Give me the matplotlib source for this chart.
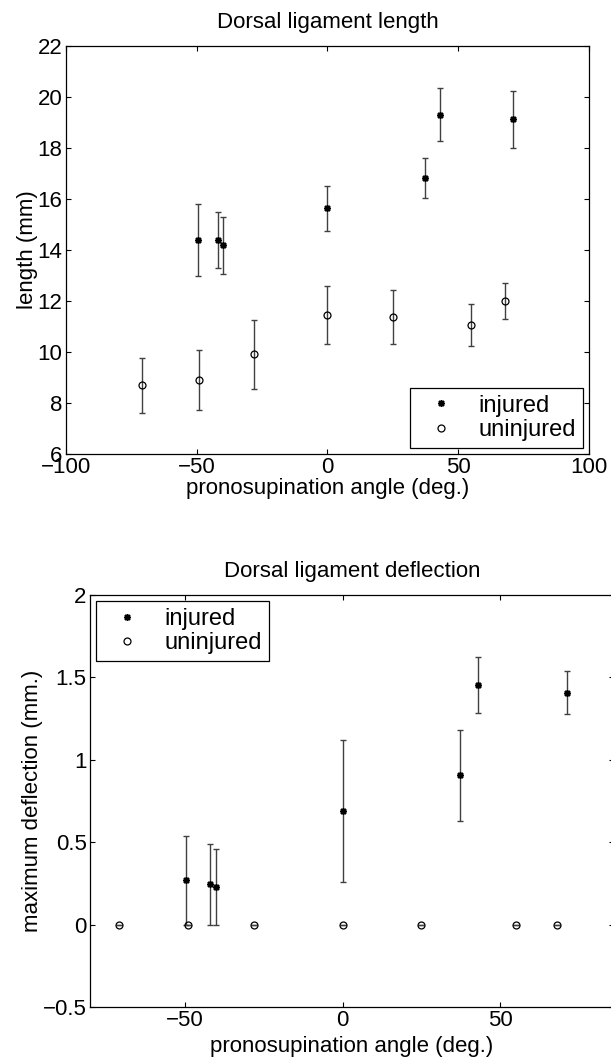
import numpy as np
import matplotlib
matplotlib.use("Agg")
import matplotlib.pyplot as plt

plt.rcParams['font.family'] = ['Liberation Sans', 'DejaVu Sans']

# data
inj_angle = [-49.5, -42, -40, 0, 37.3, 43, 71]
uninj_angle = [-70.8, -49, -28, 0, 25, 55, 68]

inj_length = [14.39, 14.39, 14.18, 15.63, 16.82, 19.31, 19.12]
inj_length_err = [1.42, 1.10, 1.12, 0.87, 0.78, 1.04, 1.10]
uninj_length = [8.69, 8.91, 9.91, 11.45, 11.36, 11.06, 12.0]
uninj_length_err = [1.08, 1.17, 1.35, 1.13, 1.06, 0.81, 0.70]

inj_defl = [0.27, 0.245, 0.228, 0.69, 0.905, 1.453, 1.408]
inj_defl_err = [0.27, 0.245, 0.228, 0.433, 0.276, 0.171, 0.131]
uninj_defl = [0, 0, 0, 0, 0, 0, 0]
uninj_defl_err = [0, 0, 0, 0, 0, 0, 0]

top_xticks = [-100, -50, 0, 50, 100]
top_xticklabels = ['\u2212100', '\u221250', '0', '50', '100']
top_yticks = [6, 8, 10, 12, 14, 16, 18, 20, 22]
bot_xticks = [-50, 0, 50]
bot_xticklabels = ['\u221250', '0', '50']
bot_yticks = [-0.5, 0, 0.5, 1, 1.5, 2]
bot_yticklabels = ['\u22120.5', '0', '0.5', '1', '1.5', '2']

FS = 16
star = (8, 2, 0)
ecol = '#404040'


def style_axes(ax):
    ax.tick_params(direction='in', length=3.6, width=0.8, labelsize=FS,
                   top=True, right=True, pad=2.5)
    for s in ax.spines.values():
        s.set_linewidth(0.9)


def draw(ax, y_inj, e_inj, y_un, e_un):
    ax.errorbar(inj_angle, y_inj, yerr=e_inj, fmt='none', ecolor=ecol,
                elinewidth=1.0, capsize=2.5, capthick=1.0)
    ax.errorbar(uninj_angle, y_un, yerr=e_un, fmt='none', ecolor=ecol,
                elinewidth=1.0, capsize=2.5, capthick=1.0)
    ax.plot(inj_angle, y_inj, linestyle='none', marker=star, markersize=5,
            color='black', markeredgewidth=1.1, label='injured')
    ax.plot(uninj_angle, y_un, linestyle='none', marker='o', markersize=5,
            markerfacecolor='none', markeredgecolor='black',
            markeredgewidth=0.9, label='uninjured')


def add_legend(ax, loc):
    leg = ax.legend(loc=loc, fontsize=17, frameon=True, fancybox=False,
                    edgecolor='black', framealpha=1, borderaxespad=0.25,
                    handlelength=2.0, handletextpad=0.6, borderpad=0.3,
                    labelspacing=0.1)
    leg.get_frame().set_linewidth(0.9)
    return leg


fig = plt.figure(figsize=(6.11, 10.61), dpi=100)

# Dorsal ligament length
ax1 = fig.add_axes([0.108, 0.5721, 0.856, 0.3845])
draw(ax1, inj_length, inj_length_err, uninj_length, uninj_length_err)
ax1.set_xlim(-100, 100)
ax1.set_ylim(6, 22)
ax1.set_xticks(top_xticks)
ax1.set_xticklabels(top_xticklabels)
ax1.set_yticks(top_yticks)
style_axes(ax1)
ax1.set_title('Dorsal ligament length', fontsize=FS, pad=13)
ax1.set_xlabel('pronosupination angle (deg.)', fontsize=FS, labelpad=0)
ax1.set_ylabel('length (mm)', fontsize=FS, labelpad=0)
add_legend(ax1, 'lower right')

# Dorsal ligament deflection
ax2 = fig.add_axes([0.1473, 0.0509, 0.8576, 0.3883])
draw(ax2, inj_defl, inj_defl_err, uninj_defl, uninj_defl_err)
ax2.set_xlim(-80, 86)
ax2.set_ylim(-0.5, 2)
ax2.set_xticks(bot_xticks)
ax2.set_xticklabels(bot_xticklabels)
ax2.set_yticks(bot_yticks)
ax2.set_yticklabels(bot_yticklabels)
style_axes(ax2)
ax2.set_title('Dorsal ligament deflection', fontsize=FS, pad=13)
ax2.set_xlabel('pronosupination angle (deg.)', fontsize=FS, labelpad=3)
ax2.set_ylabel('maximum deflection (mm.)', fontsize=FS, labelpad=0)
add_legend(ax2, 'upper left')

fig.savefig('out.png', dpi=100)
